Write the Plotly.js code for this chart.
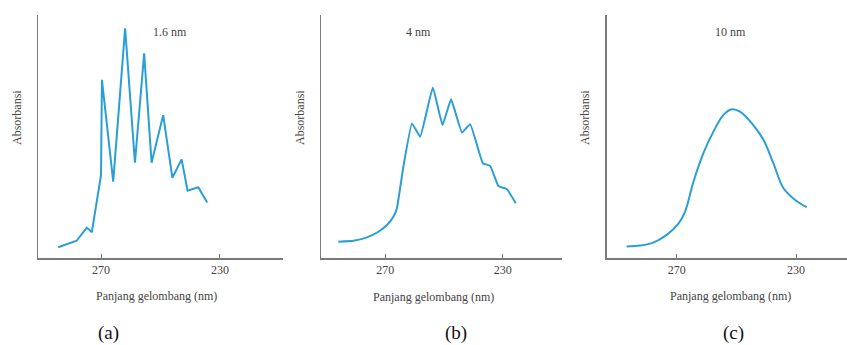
<!DOCTYPE html>
<html>
<head>
<meta charset="utf-8">
<script src="https://cdn.plot.ly/plotly-3.0.1.min.js"></script>
<style>html,body{margin:0;padding:0;background:#fff;}#chart{width:847px;height:345px;}</style>
</head>
<body>
<div id="chart"></div>
<script>
// Panel (a): 1.6 nm slit width
const wlA = [284.4, 278.2, 274.8, 273.1, 270.0, 269.7, 265.9, 261.9, 258.6, 255.5, 253.0, 249.1, 246.0, 242.9, 240.9, 237.3, 234.3];
const absA = [0.044, 0.071, 0.125, 0.106, 0.342, 0.733, 0.314, 0.945, 0.392, 0.842, 0.392, 0.588, 0.330, 0.406, 0.277, 0.291, 0.228];
// Panel (b): 4 nm slit width
const wlB = [285.9, 280.8, 276.2, 272.3, 269.4, 267.2, 266.0, 263.8, 260.9, 258.1, 253.8, 250.5, 247.6, 243.9, 241.1, 236.8, 234.3, 231.5, 228.6, 225.6];
const absB = [0.067, 0.071, 0.085, 0.108, 0.136, 0.170, 0.205, 0.376, 0.554, 0.499, 0.702, 0.547, 0.653, 0.516, 0.551, 0.390, 0.379, 0.296, 0.283, 0.225];
// Panel (c): 10 nm slit width
const wlC = [286.8, 282.3, 277.9, 273.4, 269.5, 267.2, 264.4, 261.1, 257.7, 254.4, 251.5, 248.8, 244.8, 240.9, 237.6, 234.2, 230.3, 226.4];
const absC = [0.047, 0.051, 0.063, 0.095, 0.140, 0.191, 0.314, 0.431, 0.520, 0.588, 0.612, 0.602, 0.554, 0.486, 0.390, 0.287, 0.239, 0.209];

const tickVals = [270, 230];
const tickText = ['270', '230'];
const slitLabels = ['1.6 nm', '4 nm', '10 nm'];
const panelLabels = ['(a)', '(b)', '(c)'];
const xTitle = 'Panjang gelombang (nm)';
const yTitle = 'Absorbansi';

const W = 847, H = 345;
const px = v => v / W;
const py = v => (H - v) / H;

const lineStyle = {color: '#2a9fd6', width: 2};
const traces = [
  {x: wlA, y: absA, xaxis: 'x', yaxis: 'y', mode: 'lines', line: lineStyle, hoverinfo: 'none'},
  {x: wlB, y: absB, xaxis: 'x2', yaxis: 'y2', mode: 'lines', line: Object.assign({}, lineStyle, {shape: 'spline', smoothing: 0.3}), hoverinfo: 'none'},
  {x: wlC, y: absC, xaxis: 'x3', yaxis: 'y3', mode: 'lines', line: Object.assign({}, lineStyle, {shape: 'spline', smoothing: 1}), hoverinfo: 'none'}
];

const serif = 'Liberation Serif';
function xAx(dom, rng, anchor) {
  return {domain: dom, range: rng, anchor: anchor, showline: true, linecolor: '#7a7a7a', linewidth: 1.5,
    ticks: 'inside', ticklen: 4, tickwidth: 1, tickcolor: '#7a7a7a', tickvals: tickVals, ticktext: tickText,
    tickfont: {family: serif, size: 12, color: '#444'}, showgrid: false, zeroline: false, fixedrange: true};
}
function yAx(anchor) {
  return {domain: [py(258), py(15)], range: [0, 1], anchor: anchor, showline: true, linecolor: '#7a7a7a', linewidth: 1.5,
    showticklabels: false, ticks: '', showgrid: false, zeroline: false, fixedrange: true};
}

const annots = [];
const slitX = [170, 418, 730];
const ytX = [17, 300, 585];
const xtX = [156, 434, 730];
const xtY = [296, 297, 296];
const plX = [108, 456, 733];
for (let i = 0; i < 3; i++) {
  annots.push({xref: 'paper', yref: 'paper', x: px(slitX[i]), y: py(32), text: slitLabels[i], showarrow: false,
    font: {family: serif, size: 12, color: '#444'}, xanchor: 'center', yanchor: 'middle'});
  annots.push({xref: 'paper', yref: 'paper', x: px(ytX[i]), y: py(118), text: yTitle, showarrow: false, textangle: -90,
    font: {family: serif, size: 12, color: '#444'}, xanchor: 'center', yanchor: 'middle'});
  annots.push({xref: 'paper', yref: 'paper', x: px(xtX[i]), y: py(xtY[i]), text: xTitle, showarrow: false,
    font: {family: serif, size: 12, color: '#444'}, xanchor: 'center', yanchor: 'middle'});
  annots.push({xref: 'paper', yref: 'paper', x: px(plX[i]), y: py(333), text: panelLabels[i], showarrow: false,
    font: {family: serif, size: 19, color: '#111'}, xanchor: 'center', yanchor: 'middle'});
}

const layout = {
  width: W, height: H, margin: {l: 0, r: 0, t: 0, b: 0}, showlegend: false,
  paper_bgcolor: '#fff', plot_bgcolor: 'rgba(0,0,0,0)',
  font: {family: serif},
  xaxis: xAx([px(38), px(283)], [291.2, 208.8], 'y'),
  yaxis: yAx('x'),
  xaxis2: xAx([px(321), px(561.7)], [291.8, 210], 'y2'),
  yaxis2: yAx('x2'),
  xaxis3: xAx([px(606.7), 1], [293.5, 212.9], 'y3'),
  yaxis3: yAx('x3'),
  annotations: annots
};

Plotly.newPlot('chart', traces, layout, {displayModeBar: false, staticPlot: true});
</script>
</body>
</html>
